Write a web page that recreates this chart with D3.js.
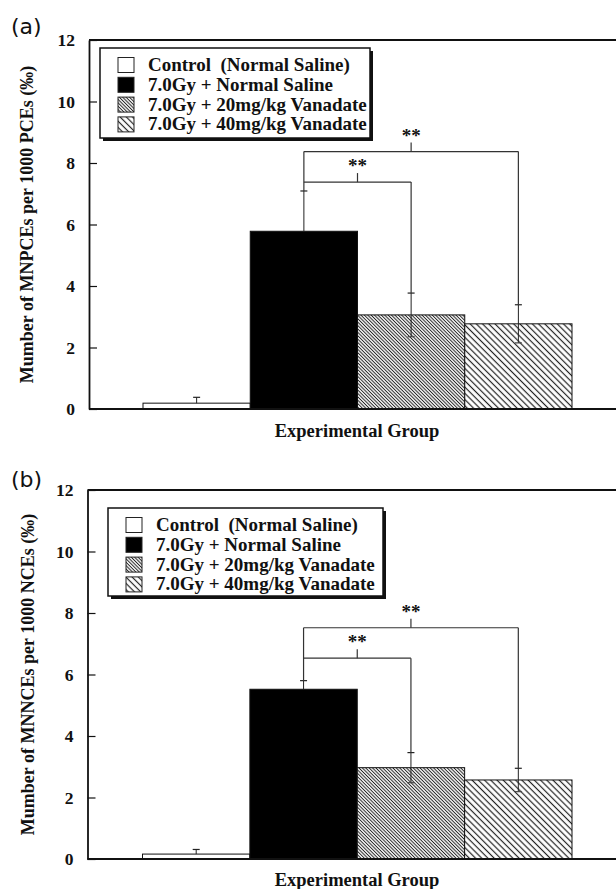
<!DOCTYPE html>
<html>
<head>
<meta charset="utf-8">
<script src="https://cdn.jsdelivr.net/npm/d3@7"></script>
<style>
  html, body { margin: 0; padding: 0; background: #fff; }
  svg { display: block; }
  text { font-family: "Liberation Serif", "Times New Roman", serif; font-weight: bold; fill: #111; }
  .tag { font-family: "DejaVu Sans", "Liberation Sans", Arial, sans-serif; font-weight: normal; }
</style>
</head>
<body>
<svg id="chart" width="616" height="889"></svg>
<script>
// ---------------- data ----------------
const groups = [
  "Control  (Normal Saline)",
  "7.0Gy + Normal Saline",
  "7.0Gy + 20mg/kg Vanadate",
  "7.0Gy + 40mg/kg Vanadate"
];
const meanA = [0.19, 5.78, 3.06, 2.77];
const errA  = [0.19, 1.31, 0.71, 0.62];
const meanB = [0.16, 5.52, 2.97, 2.57];
const errB  = [0.15, 0.28, 0.49, 0.38];
const yTicks = [0, 2, 4, 6, 8, 10, 12];
const yDomain = [0, 12];
const sigA = [{from: 1, to: 2, y: 7.38}, {from: 1, to: 3, y: 8.37}];
const sigB = [{from: 1, to: 2, y: 6.53}, {from: 1, to: 3, y: 7.52}];
const sigLabel = "**";
const yTitleA = "Mumber of MNPCEs per 1000 PCEs (\u2030)";
const yTitleB = "Mumber of MNNCEs per 1000 NCEs (\u2030)";
const xTitle = "Experimental Group";
const tagA = "(a)";
const tagB = "(b)";

// ---------------- drawing ----------------
const svg = d3.select("#chart");
const defs = svg.append("defs");

function hatch(id, spacing, width) {
  const p = defs.append("pattern")
    .attr("id", id)
    .attr("patternUnits", "userSpaceOnUse")
    .attr("width", spacing).attr("height", 10)
    .attr("patternTransform", "rotate(-45)");
  p.append("rect").attr("width", spacing).attr("height", 10).attr("fill", "#fff");
  p.append("line").attr("x1", spacing / 2).attr("x2", spacing / 2)
    .attr("y1", 0).attr("y2", 10)
    .attr("stroke", "#222").attr("stroke-width", width);
}
hatch("hatchDense", 2.4, 1.0);
hatch("hatchSparse", 4.4, 1.2);
const fills = ["#fff", "#000", "url(#hatchDense)", "url(#hatchSparse)"];

function panel(cfg, means, errs, sigs, yTitle, tag) {
  const g = svg.append("g");
  const x = d3.scaleBand().domain(groups).range([cfg.barL, cfg.barR]).padding(0);
  const y = d3.scaleLinear().domain(yDomain).range([cfg.bottom, cfg.top]);

  // frame top line
  g.append("line").attr("x1", cfg.left).attr("x2", 640)
    .attr("y1", y(12)).attr("y2", y(12))
    .attr("stroke", "#111").attr("stroke-width", 1.8);

  // bars
  g.selectAll("rect.bar").data(groups).join("rect")
    .attr("class", "bar")
    .attr("x", d => x(d))
    .attr("y", (d, i) => y(means[i]))
    .attr("width", x.bandwidth())
    .attr("height", (d, i) => y(0) - y(means[i]))
    .attr("fill", (d, i) => fills[i])
    .attr("stroke", "#111").attr("stroke-width", 1);

  // error bars (lower half only shown on hatched bars)
  const cap = 3.5;
  groups.forEach((d, i) => {
    const cx = x(d) + x.bandwidth() / 2;
    const hi = y(means[i] + errs[i]);
    const showLow = fills[i].startsWith("url");
    const lo = showLow ? y(Math.max(0, means[i] - errs[i])) : y(means[i]);
    g.append("line").attr("x1", cx).attr("x2", cx).attr("y1", lo).attr("y2", hi)
      .attr("stroke", "#222").attr("stroke-width", 1);
    g.append("line").attr("x1", cx - cap).attr("x2", cx + cap).attr("y1", hi).attr("y2", hi)
      .attr("stroke", "#222").attr("stroke-width", 1.2);
    if (showLow) {
      g.append("line").attr("x1", cx - cap).attr("x2", cx + cap).attr("y1", lo).attr("y2", lo)
        .attr("stroke", "#444").attr("stroke-width", 1.2);
    }
  });

  // significance brackets
  const cx = i => x(groups[i]) + x.bandwidth() / 2;
  const top = i => y(means[i] + errs[i]);
  const maxY = d3.max(sigs, s => s.y);
  const baseIdx = sigs[0].from;
  g.append("line").attr("x1", cx(baseIdx)).attr("x2", cx(baseIdx))
    .attr("y1", top(baseIdx)).attr("y2", y(maxY))
    .attr("stroke", "#333").attr("stroke-width", 1.2);
  sigs.forEach(s => {
    const yy = y(s.y);
    g.append("line").attr("x1", cx(s.from)).attr("x2", cx(s.to))
      .attr("y1", yy).attr("y2", yy)
      .attr("stroke", "#333").attr("stroke-width", 1.2);
    g.append("line").attr("x1", cx(s.to)).attr("x2", cx(s.to))
      .attr("y1", yy).attr("y2", top(s.to))
      .attr("stroke", "#333").attr("stroke-width", 1.2);
    const mx = (cx(s.from) + cx(s.to)) / 2;
    g.append("line").attr("x1", mx).attr("x2", mx)
      .attr("y1", yy).attr("y2", yy - 9)
      .attr("stroke", "#333").attr("stroke-width", 1.2);
    g.append("text").attr("x", mx).attr("y", yy - 10)
      .attr("text-anchor", "middle").attr("font-size", 19)
      .text(sigLabel);
  });

  // bottom axis line
  g.append("line").attr("x1", cfg.left).attr("x2", 640)
    .attr("y1", y(0)).attr("y2", y(0))
    .attr("stroke", "#111").attr("stroke-width", 1.8);

  // left axis
  const ax = g.append("g").attr("transform", `translate(${cfg.left},0)`)
    .call(d3.axisLeft(y).tickValues(yTicks).tickFormat(d3.format("d"))
      .tickSizeInner(-8).tickSizeOuter(0).tickPadding(14));
  ax.select(".domain").attr("stroke", "#111").attr("stroke-width", 1.8);
  ax.selectAll(".tick line").attr("stroke", "#111").attr("stroke-width", 1.2);
  ax.selectAll(".tick text")
    .attr("font-family", "Liberation Serif, serif")
    .attr("font-weight", "bold")
    .attr("font-size", 17.5).attr("fill", "#111");

  // y title
  g.append("text")
    .attr("transform", `translate(${cfg.yTitleX},${(y(0) + y(12)) / 2}) rotate(-90)`)
    .attr("text-anchor", "middle").attr("font-size", 18)
    .text(yTitle);

  // x title
  g.append("text").attr("x", cfg.xTitleX).attr("y", cfg.xTitleY)
    .attr("text-anchor", "middle").attr("font-size", 18.5)
    .text(xTitle);

  // panel tag
  g.append("text").attr("class", "tag")
    .attr("x", 11).attr("y", cfg.tagY)
    .attr("font-size", 22)
    .text(tag);

  // legend
  const L = cfg.legend;
  g.append("rect").attr("x", L.x + 3).attr("y", L.y + 3)
    .attr("width", L.w).attr("height", L.h).attr("fill", "#111");
  g.append("rect").attr("x", L.x).attr("y", L.y)
    .attr("width", L.w).attr("height", L.h)
    .attr("fill", "#fff").attr("stroke", "#111").attr("stroke-width", 1.5);
  groups.forEach((d, i) => {
    const ry = L.y + 17 + i * 19.8;
    g.append("rect").attr("x", L.x + 18).attr("y", ry - 7.5)
      .attr("width", 16).attr("height", 15)
      .attr("fill", fills[i]).attr("stroke", "#222").attr("stroke-width", 1);
    g.append("text").attr("x", L.x + 48).attr("y", ry + 6)
      .attr("font-size", 19)
      .attr("xml:space", "preserve")
      .style("white-space", "pre")
      .text(d);
  });
}

panel({
  top: 40, bottom: 409, left: 89, barL: 143, barR: 572,
  yTitleX: 33, xTitleX: 357, xTitleY: 437, tagY: 34,
  legend: {x: 100, y: 48, w: 270, h: 90}
}, meanA, errA, sigA, yTitleA, tagA);

panel({
  top: 490, bottom: 859, left: 87.5, barL: 142.5, barR: 572,
  yTitleX: 34, xTitleX: 357, xTitleY: 886, tagY: 487,
  legend: {x: 108, y: 508, w: 275, h: 88}
}, meanB, errB, sigB, yTitleB, tagB);
</script>
</body>
</html>
